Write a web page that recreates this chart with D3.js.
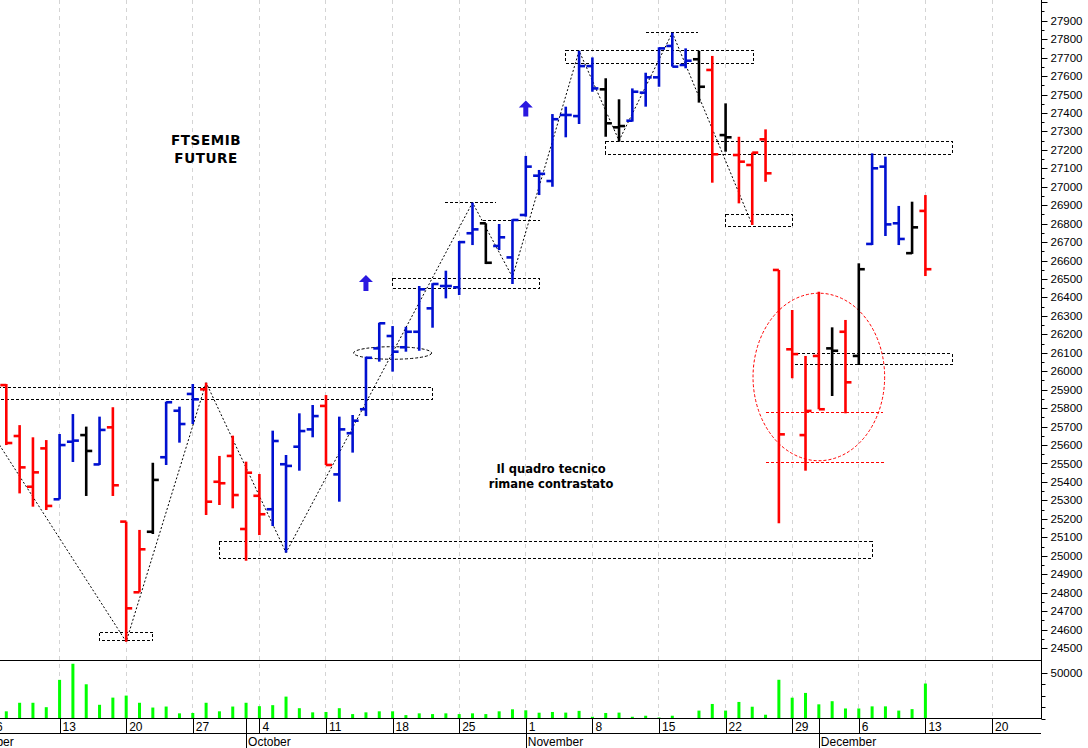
<!DOCTYPE html>
<html><head><meta charset="utf-8">
<script src="https://cdn.jsdelivr.net/npm/d3@7/dist/d3.min.js"></script>
<style>html,body{margin:0;padding:0;background:#fff;overflow:hidden}</style>
</head><body><svg id="c" width="1088" height="748"></svg>
<script>
// ---- data ----
const dates = ["2021-09-07","2021-09-08","2021-09-09","2021-09-10","2021-09-13","2021-09-14","2021-09-15","2021-09-16","2021-09-17",
"2021-09-20","2021-09-21","2021-09-22","2021-09-23","2021-09-24","2021-09-27","2021-09-28","2021-09-29","2021-09-30","2021-10-01",
"2021-10-04","2021-10-05","2021-10-06","2021-10-07","2021-10-08","2021-10-11","2021-10-12","2021-10-13","2021-10-14","2021-10-15",
"2021-10-18","2021-10-19","2021-10-20","2021-10-21","2021-10-22","2021-10-25","2021-10-26","2021-10-27","2021-10-28","2021-10-29",
"2021-11-01","2021-11-02","2021-11-03","2021-11-04","2021-11-05","2021-11-08","2021-11-09","2021-11-10","2021-11-11","2021-11-12",
"2021-11-15","2021-11-16","2021-11-17","2021-11-18","2021-11-19","2021-11-22","2021-11-23","2021-11-24","2021-11-25","2021-11-26",
"2021-11-29","2021-11-30","2021-12-01","2021-12-02","2021-12-03","2021-12-06","2021-12-07","2021-12-08","2021-12-09","2021-12-10","2021-12-13"];
const open  = [25925,25649,25374,25582,25306,25618,25654,25495,25696,25185,24802,25130,25534,25786,25877,25902,25401,25541,25145,25325,
25252,25496,25591,25685,25812,25441,25664,25794,26124,26191,26130,26214,26341,26462,26455,26748,26802,26679,26617,26847,
27060,27031,27389,27383,27654,27528,27322,27358,27510,27593,27763,27660,27691,27633,27280,27172,27118,27257,26549,26119,
25654,26083,26124,26214,26083,26690,27109,26802,26640,26869];
const high  = [25931,25708,25642,25627,25660,25768,25700,25754,25805,25185,25140,25504,25835,25808,25931,25938,25541,25651,25510,25443,
25678,25546,25772,25817,25871,25754,25763,26079,26263,26245,26241,26462,26477,26545,26706,26914,26802,26798,26824,27167,
27091,27394,27434,27737,27701,27588,27474,27533,27618,27756,27835,27750,27737,27709,27452,27271,27185,27311,26549,26332,
26083,26431,26238,26278,26585,27181,27163,26896,26919,26955];
const low   = [25600,25338,25266,25248,25306,25508,25324,25492,25324,24534,24802,25118,25492,25613,25714,25221,25275,25257,24973,25112,
25161,25017,25461,25642,25492,25293,25559,25757,26052,25998,26106,26111,26236,26395,26413,26684,26581,26657,26473,26838,
26955,27000,27268,27340,27515,27271,27244,27353,27434,27542,27651,27642,27456,27022,27190,26910,26793,27027,25176,25962,
25461,25794,25866,25772,26034,26684,26733,26684,26636,26516];
const close = [25611,25479,25452,25270,25600,25624,25568,25682,25382,24715,25035,25411,25832,25714,25848,25293,25393,25329,25450,25225,
25622,25487,25676,25757,25492,25685,25732,26073,26260,26106,26214,26444,26473,26462,26700,26769,26588,26726,26820,27109,
27070,27366,27389,27654,27533,27344,27329,27515,27593,27750,27651,27683,27542,27176,27268,27136,27185,27073,25658,26093,
25785,25794,26111,25940,26553,27100,26796,26717,26780,26553];
const barColor = ["r","r","r","r","b","b","k","b","r","r","r","k","b","b","b","r","r","r","r","r",
"b","b","b","b","r","b","b","b","b","b","b","b","b","b","b","b","k","b","b","b",
"b","b","b","b","b","k","k","b","b","b","b","b","k","r","k","r","r","r","r","r",
"r","r","k","r","k","b","b","b","k","r"];
const volume = [7800,17100,17100,12300,42000,59500,37200,14900,22700,24900,17100,11900,13000,5600,6000,17100,7800,13000,17100,13400,
14500,23800,11200,6700,7100,11200,4800,6700,7800,7800,3700,5600,4800,5600,4800,5600,4800,7800,10000,8900,
6300,7100,6400,8300,1900,6000,6400,1900,3000,1100,3000,400,8600,15800,8600,18000,12800,4100,42100,22600,
27800,15400,18800,10900,10900,13200,13200,8600,10200,38000];

// axis ticks / labels
const priceTicks = d3.range(24500, 28001, 100);
const volumeTicks = [0, 12500, 25000, 37500, 50000];
const volumeTickLabels = ["", "", "", "", "50000"];
const dayTickIdx = [-1,4,9,14,19,24,29,34,39,44,49,54,59,64,69,74];
const dayTickLabels = ["6","13","20","27","4","11","18","25","1","8","15","22","29","6","13","20"];
const monthIdx = [-4,18,39,61];
const monthLabels = ["September","October","November","December"];

// annotations (trading-day index, price)
const zigIdx   = [-1, 9, 15, 21, 35, 38, 43, 46, 50, 56];
const zigPrice = [25655, 24534, 25938, 25017, 26914, 26510, 27737, 27250, 27835, 26793];
const boxIdx0  = [-1, 16, 7, 29, 42, 45, 54, 59];
const boxIdx1  = [32, 65, 11, 40, 56.1, 71, 59, 71];
const boxTop   = [25913, 25076, 24585, 26504, 27737, 27244, 26847, 26097];
const boxBot   = [25848, 24986, 24538, 26450, 27669, 27176, 26783, 26038];
const hlineIdx0 = [32.9, 35.8, 48];
const hlineIdx1 = [36.8, 40.1, 51.9];
const hlinePrice = [26914, 26816, 27837];
const ellIdx = [29, 61], ellPrice = [26099, 25969], ellRIdx = [2.93, 4.94], ellRPrice = [34, 454];
const ellColor = ["#000", "#ff0000"];
const redLineIdx0 = [57, 57], redLineIdx1 = [65.8, 66], redLinePrice = [25778, 25508];
const arrowIdx = [27, 39], arrowPrice = [26478, 27424];
const title = ["FTSEMIB", "FUTURE"];
const titlePos = [15, 27226];
const note = ["Il quadro tecnico", "rimane contrastato"];
const notePos = [40.9, 25448];

// ---- drawing ----
const svg = d3.select("#c");
const axisX = 1041;
const colorMap = {r:"#ff0000", b:"#0010d0", k:"#000000"};
const x = d3.scaleLinear().domain([0, 69]).range([6.3, 925.4]);
const y = d3.scaleLinear().domain([24500, 27900]).range([648, 20.7]);
const yv = d3.scaleLinear().domain([0, 62500]).range([718.5, 661]);

svg.append("rect").attr("width",1088).attr("height",748).attr("fill","#fff");
const defs = svg.append("defs");
defs.append("clipPath").attr("id","cp").append("rect").attr("x",0).attr("y",0).attr("width",axisX).attr("height",660);
defs.append("clipPath").attr("id","cv").append("rect").attr("x",0).attr("y",661).attr("width",axisX).attr("height",58);
defs.append("clipPath").attr("id","cd").append("rect").attr("x",0).attr("y",718).attr("width",axisX).attr("height",30);

// grid
svg.append("g").selectAll("line").data(dayTickIdx).join("line")
  .attr("x1",d=>x(d)).attr("x2",d=>x(d)).attr("y1",0).attr("y2",718)
  .attr("stroke","#d4d4d4").attr("stroke-width",1).attr("stroke-dasharray","4,4")
  .attr("shape-rendering","crispEdges");

const gp = svg.append("g").attr("clip-path","url(#cp)");

// dashed boxes
gp.append("g").selectAll("rect").data(boxIdx0).join("rect")
  .attr("x",(d)=>x(d)).attr("y",(d,i)=>y(boxTop[i]))
  .attr("width",(d,i)=>x(boxIdx1[i])-x(d)).attr("height",(d,i)=>y(boxBot[i])-y(boxTop[i]))
  .attr("fill","none").attr("stroke","#000").attr("stroke-width",1).attr("stroke-dasharray","3,2")
  .attr("shape-rendering","crispEdges");
gp.append("g").selectAll("line").data(hlineIdx0).join("line")
  .attr("x1",d=>x(d)).attr("x2",(d,i)=>x(hlineIdx1[i])).attr("y1",(d,i)=>y(hlinePrice[i])).attr("y2",(d,i)=>y(hlinePrice[i]))
  .attr("stroke","#000").attr("stroke-dasharray","3,2").attr("shape-rendering","crispEdges");
// ellipses
gp.append("g").selectAll("ellipse").data(ellIdx).join("ellipse")
  .attr("cx",d=>x(d)).attr("cy",(d,i)=>y(ellPrice[i]))
  .attr("rx",(d,i)=>x(d+ellRIdx[i])-x(d)).attr("ry",(d,i)=>y(ellPrice[i]-ellRPrice[i])-y(ellPrice[i]))
  .attr("fill","none").attr("stroke",(d,i)=>ellColor[i]).attr("stroke-width",1).attr("stroke-dasharray","3,2");
gp.append("g").selectAll("line").data(redLineIdx0).join("line")
  .attr("x1",d=>x(d)).attr("x2",(d,i)=>x(redLineIdx1[i])).attr("y1",(d,i)=>y(redLinePrice[i])).attr("y2",(d,i)=>y(redLinePrice[i]))
  .attr("stroke","#ff0000").attr("stroke-dasharray","3,2").attr("shape-rendering","crispEdges");
// zigzag
gp.append("path").datum(zigIdx.map((d,i)=>[x(d), y(zigPrice[i])]))
  .attr("d", d3.line()).attr("fill","none").attr("stroke","#000").attr("stroke-width",1).attr("stroke-dasharray","2,2");

// OHLC bars
const bars = gp.append("g").selectAll("g").data(dates).join("g")
  .attr("stroke",(d,i)=>colorMap[barColor[i]]).attr("stroke-width",2.6);
bars.append("line").attr("x1",(d,i)=>x(i)).attr("x2",(d,i)=>x(i)).attr("y1",(d,i)=>y(high[i])).attr("y2",(d,i)=>y(low[i]));
bars.append("line").attr("x1",(d,i)=>x(i)-6).attr("x2",(d,i)=>x(i)).attr("y1",(d,i)=>y(open[i])).attr("y2",(d,i)=>y(open[i]));
bars.append("line").attr("x1",(d,i)=>x(i)).attr("x2",(d,i)=>x(i)+6).attr("y1",(d,i)=>y(close[i])).attr("y2",(d,i)=>y(close[i]));

// arrows
const arrowPath = "M0,-8 L7,-1 L2.5,-1 L2.5,8 L-2.5,8 L-2.5,-1 L-7,-1 Z";
gp.append("g").selectAll("path").data(arrowIdx).join("path")
  .attr("d",arrowPath).attr("transform",(d,i)=>`translate(${x(d)},${y(arrowPrice[i])})`)
  .attr("fill","#2a18e0");

// texts
const tf = "'DejaVu Sans', Verdana, sans-serif";
svg.append("g").selectAll("text").data(title).join("text")
  .attr("x",x(titlePos[0])).attr("y",(d,i)=>y(titlePos[1])+i*17.5)
  .attr("text-anchor","middle").attr("font-family",tf).attr("font-weight","bold").attr("font-size",13.5)
  .attr("letter-spacing",0.6).text(d=>d);
svg.append("g").selectAll("text").data(note).join("text")
  .attr("x",x(notePos[0])).attr("y",(d,i)=>y(notePos[1])+i*15)
  .attr("text-anchor","middle").attr("font-family",tf).attr("font-weight","bold").attr("font-size",11.5)
  .text(d=>d);

// volume
const gv = svg.append("g").attr("clip-path","url(#cv)");
gv.selectAll("rect").data(volume).join("rect")
  .attr("x",(d,i)=>x(i)-1.5).attr("width",3).attr("y",d=>yv(d)).attr("height",d=>yv(0)-yv(d))
  .attr("fill","#00ff00");

// frame lines
const fl = svg.append("g").attr("stroke","#000").attr("stroke-width",1).attr("shape-rendering","crispEdges");
fl.append("line").attr("x1",0).attr("x2",axisX).attr("y1",660.5).attr("y2",660.5);
fl.append("line").attr("x1",0).attr("x2",axisX).attr("y1",718.5).attr("y2",718.5);
fl.append("line").attr("x1",0).attr("x2",axisX).attr("y1",733.5).attr("y2",733.5);
fl.append("line").attr("x1",axisX+0.5).attr("x2",axisX+0.5).attr("y1",0).attr("y2",718.5);

// price axis
const fontAx = "'Liberation Sans', Arial, sans-serif";
const pa = svg.append("g").attr("transform",`translate(${axisX+0.5},0)`);
pa.selectAll("line.minor").data(priceTicks.slice(0,-1).map(d=>d+50)).join("line").attr("class","minor")
  .attr("x1",0).attr("x2",3).attr("y1",d=>Math.round(y(d))+0.5).attr("y2",d=>Math.round(y(d))+0.5).attr("stroke","#000");
pa.selectAll("line.major").data(priceTicks).join("line").attr("class","major")
  .attr("x1",0).attr("x2",6).attr("y1",d=>Math.round(y(d))+0.5).attr("y2",d=>Math.round(y(d))+0.5).attr("stroke","#000");
pa.selectAll("text").data(priceTicks.filter(d=>d<=27900)).join("text")
  .attr("x",9).attr("y",d=>y(d)).attr("dy","0.35em").attr("font-family",fontAx).attr("font-size",11.5).text(d=>d);

// volume axis
const va = svg.append("g").attr("transform",`translate(${axisX+0.5},0)`);
va.selectAll("line").data(volumeTicks).join("line")
  .attr("x1",0).attr("x2",(d,i)=>volumeTickLabels[i]?6:4).attr("y1",d=>Math.round(yv(d))+0.5).attr("y2",d=>Math.round(yv(d))+0.5).attr("stroke","#000");
va.selectAll("text").data(volumeTicks).join("text")
  .attr("x",9).attr("y",d=>yv(d)).attr("dy","0.35em").attr("font-family",fontAx).attr("font-size",11.5).text((d,i)=>volumeTickLabels[i]);

// date axis
const gd = svg.append("g").attr("clip-path","url(#cd)");
gd.selectAll("line.day").data(dayTickIdx).join("line").attr("class","day")
  .attr("x1",d=>Math.round(x(d))+0.5).attr("x2",d=>Math.round(x(d))+0.5).attr("y1",718.5).attr("y2",733.5).attr("stroke","#000");
gd.selectAll("text.day").data(dayTickIdx).join("text").attr("class","day")
  .attr("x",d=>x(d)+3).attr("y",731).attr("font-family",fontAx).attr("font-size",12).text((d,i)=>dayTickLabels[i]);
gd.selectAll("line.mon").data(monthIdx).join("line").attr("class","mon")
  .attr("x1",d=>Math.round(x(d))+0.5).attr("x2",d=>Math.round(x(d))+0.5).attr("y1",718.5).attr("y2",748).attr("stroke","#000");
gd.selectAll("text.mon").data(monthIdx).join("text").attr("class","mon")
  .attr("x",d=>x(d)+2).attr("y",746).attr("font-family",fontAx).attr("font-size",12).text((d,i)=>monthLabels[i]);
</script></body></html>
